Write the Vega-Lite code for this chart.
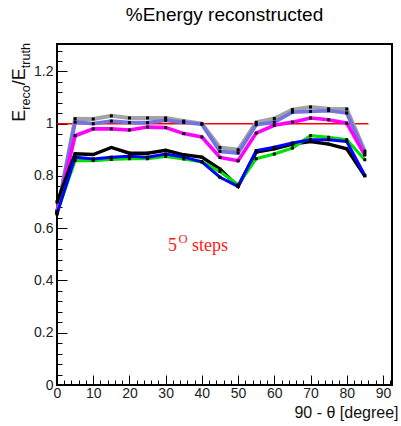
{
  "$schema": "https://vega.github.io/schema/vega-lite/v6.json",
  "autosize": "none",
  "padding": {"left": 57, "top": 44, "right": 9, "bottom": 41},
  "width": 335,
  "height": 341,
  "background": "white",
  "title": {"text": "%Energy reconstructed", "font": "Liberation Sans", "fontSize": 19, "fontWeight": "normal", "color": "black", "anchor": "middle", "frame": "group", "offset": 18},
  "config": {
    "view": {"stroke": "black", "strokeWidth": 2},
    "axis": {"domain": false, "grid": false, "tickColor": "black", "tickWidth": 1, "labelFont": "Liberation Sans", "labelFontSize": 14, "labelColor": "#222", "titleFont": "Liberation Sans", "titleFontWeight": "normal", "titleColor": "#111", "labelOverlap": false, "labelFlush": false}
  },
  "datasets": {
    "series": [
      {"s": "gray", "x": 0, "y": 0.655}, {"s": "gray", "x": 5, "y": 1.019}, {"s": "gray", "x": 10, "y": 1.018}, {"s": "gray", "x": 15, "y": 1.03}, {"s": "gray", "x": 20, "y": 1.022}, {"s": "gray", "x": 25, "y": 1.022}, {"s": "gray", "x": 30, "y": 1.022}, {"s": "gray", "x": 35, "y": 1.01}, {"s": "gray", "x": 40, "y": 1.0}, {"s": "gray", "x": 45, "y": 0.909}, {"s": "gray", "x": 50, "y": 0.9}, {"s": "gray", "x": 55, "y": 1.005}, {"s": "gray", "x": 60, "y": 1.02}, {"s": "gray", "x": 65, "y": 1.054}, {"s": "gray", "x": 70, "y": 1.064}, {"s": "gray", "x": 75, "y": 1.057}, {"s": "gray", "x": 80, "y": 1.056}, {"s": "gray", "x": 85, "y": 0.895},
      {"s": "lightblue", "x": 0, "y": 0.66}, {"s": "lightblue", "x": 5, "y": 1.006}, {"s": "lightblue", "x": 10, "y": 1.0}, {"s": "lightblue", "x": 15, "y": 1.01}, {"s": "lightblue", "x": 20, "y": 1.004}, {"s": "lightblue", "x": 25, "y": 1.004}, {"s": "lightblue", "x": 30, "y": 1.013}, {"s": "lightblue", "x": 35, "y": 1.005}, {"s": "lightblue", "x": 40, "y": 0.998}, {"s": "lightblue", "x": 45, "y": 0.894}, {"s": "lightblue", "x": 50, "y": 0.888}, {"s": "lightblue", "x": 55, "y": 0.996}, {"s": "lightblue", "x": 60, "y": 1.006}, {"s": "lightblue", "x": 65, "y": 1.044}, {"s": "lightblue", "x": 70, "y": 1.047}, {"s": "lightblue", "x": 75, "y": 1.05}, {"s": "lightblue", "x": 80, "y": 1.041}, {"s": "lightblue", "x": 85, "y": 0.888},
      {"s": "magenta", "x": 0, "y": 0.665}, {"s": "magenta", "x": 5, "y": 0.954}, {"s": "magenta", "x": 10, "y": 0.98}, {"s": "magenta", "x": 15, "y": 0.98}, {"s": "magenta", "x": 20, "y": 0.976}, {"s": "magenta", "x": 25, "y": 0.987}, {"s": "magenta", "x": 30, "y": 0.985}, {"s": "magenta", "x": 35, "y": 0.962}, {"s": "magenta", "x": 40, "y": 0.949}, {"s": "magenta", "x": 45, "y": 0.871}, {"s": "magenta", "x": 50, "y": 0.858}, {"s": "magenta", "x": 55, "y": 0.964}, {"s": "magenta", "x": 60, "y": 0.994}, {"s": "magenta", "x": 65, "y": 1.006}, {"s": "magenta", "x": 70, "y": 1.022}, {"s": "magenta", "x": 75, "y": 1.015}, {"s": "magenta", "x": 80, "y": 1.002}, {"s": "magenta", "x": 85, "y": 0.88},
      {"s": "black", "x": 0, "y": 0.7}, {"s": "black", "x": 5, "y": 0.885}, {"s": "black", "x": 10, "y": 0.882}, {"s": "black", "x": 15, "y": 0.909}, {"s": "black", "x": 20, "y": 0.887}, {"s": "black", "x": 25, "y": 0.887}, {"s": "black", "x": 30, "y": 0.898}, {"s": "black", "x": 35, "y": 0.881}, {"s": "black", "x": 40, "y": 0.872}, {"s": "black", "x": 45, "y": 0.826}, {"s": "black", "x": 50, "y": 0.76}, {"s": "black", "x": 55, "y": 0.891}, {"s": "black", "x": 60, "y": 0.904}, {"s": "black", "x": 65, "y": 0.922}, {"s": "black", "x": 70, "y": 0.932}, {"s": "black", "x": 75, "y": 0.922}, {"s": "black", "x": 80, "y": 0.904}, {"s": "black", "x": 85, "y": 0.8},
      {"s": "green", "x": 0, "y": 0.66}, {"s": "green", "x": 5, "y": 0.859}, {"s": "green", "x": 10, "y": 0.859}, {"s": "green", "x": 15, "y": 0.863}, {"s": "green", "x": 20, "y": 0.866}, {"s": "green", "x": 25, "y": 0.866}, {"s": "green", "x": 30, "y": 0.875}, {"s": "green", "x": 35, "y": 0.865}, {"s": "green", "x": 40, "y": 0.854}, {"s": "green", "x": 45, "y": 0.817}, {"s": "green", "x": 50, "y": 0.766}, {"s": "green", "x": 55, "y": 0.866}, {"s": "green", "x": 60, "y": 0.884}, {"s": "green", "x": 65, "y": 0.907}, {"s": "green", "x": 70, "y": 0.954}, {"s": "green", "x": 75, "y": 0.948}, {"s": "green", "x": 80, "y": 0.939}, {"s": "green", "x": 85, "y": 0.862},
      {"s": "blue", "x": 0, "y": 0.655}, {"s": "blue", "x": 5, "y": 0.872}, {"s": "blue", "x": 10, "y": 0.865}, {"s": "blue", "x": 15, "y": 0.872}, {"s": "blue", "x": 20, "y": 0.875}, {"s": "blue", "x": 25, "y": 0.872}, {"s": "blue", "x": 30, "y": 0.884}, {"s": "blue", "x": 35, "y": 0.872}, {"s": "blue", "x": 40, "y": 0.854}, {"s": "blue", "x": 45, "y": 0.795}, {"s": "blue", "x": 50, "y": 0.76}, {"s": "blue", "x": 55, "y": 0.897}, {"s": "blue", "x": 60, "y": 0.91}, {"s": "blue", "x": 65, "y": 0.926}, {"s": "blue", "x": 70, "y": 0.939}, {"s": "blue", "x": 75, "y": 0.939}, {"s": "blue", "x": 80, "y": 0.932}, {"s": "blue", "x": 85, "y": 0.802}
    ],
    "reference": [{"x": 0, "x2": 86, "y": 1}],
    "ytitle": [
      {"t": "E", "x": -8.7, "y": 1.0077, "big": "big"},
      {"t": "reco", "x": -7.59, "y": 1.0536, "big": "small"},
      {"t": "/E", "x": -8.7, "y": 1.1475, "big": "big"},
      {"t": "truth", "x": -7.59, "y": 1.2126, "big": "small"}
    ],
    "note": [
      {"t": "5", "x": 30.65, "y": 0.5146, "big": "big"},
      {"t": "O", "x": 33.55, "y": 0.543, "big": "small"},
      {"t": "steps", "x": 37.28, "y": 0.5146, "big": "big"}
    ]
  },
  "layer": [
    {
      "data": {"name": "reference"},
      "mark": {"type": "rule", "color": "#ff0000", "strokeWidth": 1.5},
      "encoding": {
        "x": {"field": "x", "type": "quantitative", "scale": {"domain": [0, 92.5], "nice": false, "zero": false},
          "axis": {
            "values": [0,2,4,6,8,10,12,14,16,18,20,22,24,26,28,30,32,34,36,38,40,42,44,46,48,50,52,54,56,58,60,62,64,66,68,70,72,74,76,78,80,82,84,86,88,90,92],
            "tickCount": 200,
            "labelOverlap": false,
            "tickSize": {"condition": {"test": "datum.value % 10 === 0", "value": -10}, "value": -5},
            "labelExpr": "datum.value % 10 === 0 ? format(datum.value, 'd') : ''",
            "labelPadding": 11,
            "title": "90 - θ [degree]", "titleAnchor": "end", "titleAlign": "right", "titleFontSize": 16, "titleX": 341, "titleY": 32, "titleBaseline": "alphabetic"
          }},
        "x2": {"field": "x2"},
        "y": {"field": "y", "type": "quantitative", "scale": {"domain": [0, 1.305], "nice": false, "zero": false},
          "axis": {
            "values": [0,0.04,0.08,0.12,0.16,0.2,0.24,0.28,0.32,0.36,0.4,0.44,0.48,0.52,0.56,0.6,0.64,0.68,0.72,0.76,0.8,0.84,0.88,0.92,0.96,1,1.04,1.08,1.12,1.16,1.2,1.24,1.28],
            "tickCount": 200,
            "labelOverlap": false,
            "tickSize": {"condition": {"test": "abs(datum.value*5 - round(datum.value*5)) < 0.001", "value": -10}, "value": -5},
            "labelExpr": "abs(datum.value*5 - round(datum.value*5)) < 0.001 ? format(datum.value, '~g') : ''",
            "labelPadding": 14,
            "title": null
          }}
      }
    },
    {
      "data": {"name": "series"},
      "mark": {"type": "line"},
      "encoding": {
        "x": {"field": "x", "type": "quantitative"},
        "y": {"field": "y", "type": "quantitative"},
        "color": {"field": "s", "type": "nominal", "legend": null, "sort": null,
          "scale": {"domain": ["gray", "lightblue", "magenta", "black", "green", "blue"], "range": ["#a3a3a3", "#7474e0", "#ff00ff", "#000000", "#00e000", "#0000ff"]}},
        "strokeWidth": {"field": "s", "type": "nominal", "legend": null,
          "scale": {"domain": ["gray", "lightblue", "magenta", "black", "green", "blue"], "range": [4, 3, 2.5, 2.5, 3, 2.5]}}
      }
    },
    {
      "data": {"name": "series"},
      "mark": {"type": "point", "shape": "square", "filled": true, "color": "black", "size": 9, "opacity": 1},
      "encoding": {
        "x": {"field": "x", "type": "quantitative"},
        "y": {"field": "y", "type": "quantitative"}
      }
    },
    {
      "data": {"name": "ytitle"},
      "mark": {"type": "text", "angle": 270, "align": "left", "baseline": "alphabetic", "font": "Liberation Sans", "color": "#111"},
      "encoding": {
        "x": {"field": "x", "type": "quantitative"},
        "y": {"field": "y", "type": "quantitative"},
        "text": {"field": "t"},
        "size": {"field": "big", "type": "nominal", "legend": null, "scale": {"domain": ["big", "small"], "range": [18, 12.6]}}
      }
    },
    {
      "data": {"name": "note"},
      "mark": {"type": "text", "align": "left", "baseline": "alphabetic", "font": "Liberation Serif", "color": "#ff1a1a"},
      "encoding": {
        "x": {"field": "x", "type": "quantitative"},
        "y": {"field": "y", "type": "quantitative"},
        "text": {"field": "t"},
        "size": {"field": "big", "type": "nominal", "legend": null, "scale": {"domain": ["big", "small"], "range": [22, 10]}}
      }
    }
  ]
}
